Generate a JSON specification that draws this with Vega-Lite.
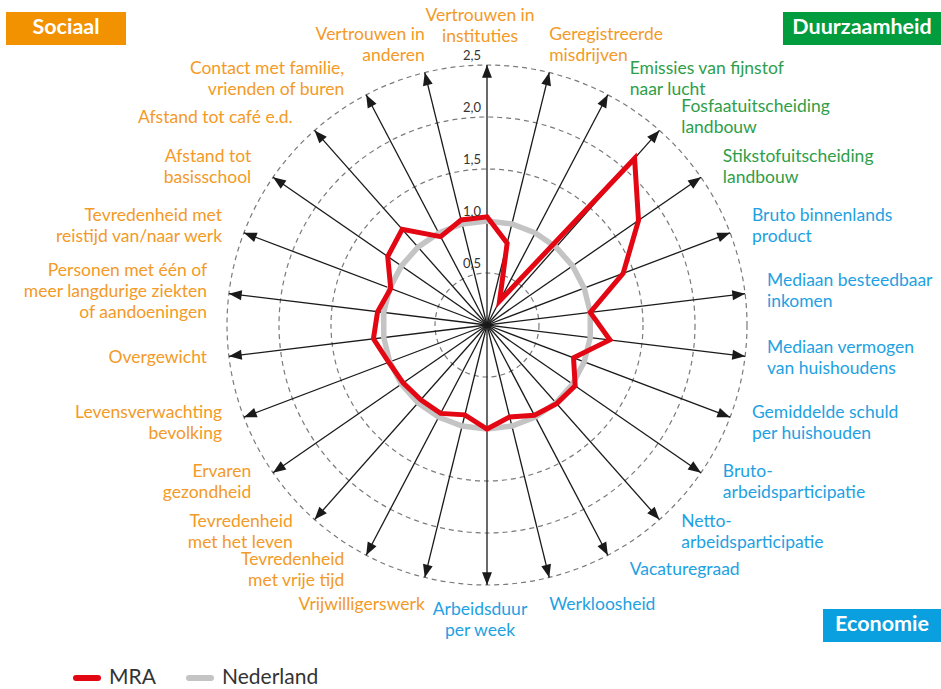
{
  "$schema": "https://vega.github.io/schema/vega-lite/v6.json",
  "width": 941,
  "height": 689,
  "autosize": {"type": "none"},
  "padding": 0,
  "background": "white",
  "config": {"view": {"stroke": null}, "font": "Lato"},
  "datasets": {
    "indicatoren": [
      {"i": 0, "indicator": "Vertrouwen in\ninstituties", "domein": "Sociaal", "MRA": 1.04, "Nederland": 1},
      {"i": 1, "indicator": "Geregistreerde\nmisdrijven", "domein": "Sociaal", "MRA": 0.81, "Nederland": 1},
      {"i": 2, "indicator": "Emissies van fijnstof\nnaar lucht", "domein": "Duurzaamheid", "MRA": 0.26, "Nederland": 1},
      {"i": 3, "indicator": "Fosfaatuitscheiding\nlandbouw", "domein": "Duurzaamheid", "MRA": 2.14, "Nederland": 1},
      {"i": 4, "indicator": "Stikstofuitscheiding\nlandbouw", "domein": "Duurzaamheid", "MRA": 1.77, "Nederland": 1},
      {"i": 5, "indicator": "Bruto binnenlands\nproduct", "domein": "Economie", "MRA": 1.40, "Nederland": 1},
      {"i": 6, "indicator": "Mediaan besteedbaar\ninkomen", "domein": "Economie", "MRA": 1.00, "Nederland": 1},
      {"i": 7, "indicator": "Mediaan vermogen\nvan huishoudens", "domein": "Economie", "MRA": 1.19, "Nederland": 1},
      {"i": 8, "indicator": "Gemiddelde schuld\nper huishouden", "domein": "Economie", "MRA": 0.89, "Nederland": 1},
      {"i": 9, "indicator": "Bruto-\narbeidsparticipatie", "domein": "Economie", "MRA": 1.03, "Nederland": 1},
      {"i": 10, "indicator": "Netto-\narbeidsparticipatie", "domein": "Economie", "MRA": 1.01, "Nederland": 1},
      {"i": 11, "indicator": "Vacaturegraad", "domein": "Economie", "MRA": 0.98, "Nederland": 1},
      {"i": 12, "indicator": "Werkloosheid", "domein": "Economie", "MRA": 0.91, "Nederland": 1},
      {"i": 13, "indicator": "Arbeidsduur\nper week", "domein": "Economie", "MRA": 1.00, "Nederland": 1},
      {"i": 14, "indicator": "Vrijwilligerswerk", "domein": "Sociaal", "MRA": 0.89, "Nederland": 1},
      {"i": 15, "indicator": "Tevredenheid\nmet vrije tijd", "domein": "Sociaal", "MRA": 0.96, "Nederland": 1},
      {"i": 16, "indicator": "Tevredenheid\nmet het leven", "domein": "Sociaal", "MRA": 0.96, "Nederland": 1},
      {"i": 17, "indicator": "Ervaren\ngezondheid", "domein": "Sociaal", "MRA": 0.98, "Nederland": 1},
      {"i": 18, "indicator": "Levensverwachting\nbevolking", "domein": "Sociaal", "MRA": 1.01, "Nederland": 1},
      {"i": 19, "indicator": "Overgewicht", "domein": "Sociaal", "MRA": 1.10, "Nederland": 1},
      {"i": 20, "indicator": "Personen met één of\nmeer langdurige ziekten\nof aandoeningen", "domein": "Sociaal", "MRA": 1.06, "Nederland": 1},
      {"i": 21, "indicator": "Tevredenheid met\nreistijd van/naar werk", "domein": "Sociaal", "MRA": 0.99, "Nederland": 1},
      {"i": 22, "indicator": "Afstand tot\nbasisschool", "domein": "Sociaal", "MRA": 1.16, "Nederland": 1},
      {"i": 23, "indicator": "Afstand tot café e.d.", "domein": "Sociaal", "MRA": 1.23, "Nederland": 1},
      {"i": 24, "indicator": "Contact met familie,\nvrienden of buren", "domein": "Sociaal", "MRA": 0.96, "Nederland": 1},
      {"i": 25, "indicator": "Vertrouwen in\nanderen", "domein": "Sociaal", "MRA": 1.04, "Nederland": 1}
    ],
    "ringen": [
      {"ring": 0.5, "label": "0,5"},
      {"ring": 1.0, "label": "1,0"},
      {"ring": 1.5, "label": "1,5"},
      {"ring": 2.0, "label": "2,0"},
      {"ring": 2.5, "label": "2,5"}
    ]
  },
  "layer": [
    {
      "encoding": {
        "x": {"field": "x", "type": "quantitative", "scale": {"domain": [-4.6827, 4.3654], "nice": false, "zero": false}, "axis": null},
        "y": {"field": "y", "type": "quantitative", "scale": {"domain": [-3.5, 3.125], "nice": false, "zero": false}, "axis": null}
      },
      "layer": [
        {
          "data": {"name": "ringen"},
          "transform": [{"calculate": "0", "as": "x"}, {"calculate": "0", "as": "y"}],
          "mark": {"type": "point", "shape": "circle", "filled": false, "color": "#7a7a7a", "strokeWidth": 1.2, "strokeDash": [5, 4], "opacity": 1},
          "encoding": {
            "size": {"field": "ring", "type": "quantitative", "scale": {"type": "pow", "exponent": 2, "domain": [0, 2.5], "range": [0, 270400]}, "legend": null}
          }
        },
        {
          "data": {"name": "indicatoren"},
          "transform": [
            {"calculate": "datum.i * 2 * PI / 26", "as": "theta"},
            {"calculate": "2.5 * sin(datum.theta)", "as": "x"},
            {"calculate": "2.5 * cos(datum.theta)", "as": "y"}
          ],
          "mark": {"type": "rule", "color": "#1a1a1a", "strokeWidth": 1.3},
          "encoding": {"x2": {"datum": 0}, "y2": {"datum": 0}}
        },
        {
          "data": {"name": "indicatoren"},
          "transform": [
            {"calculate": "datum.i * 2 * PI / 26", "as": "theta"},
            {"fold": ["MRA", "Nederland"], "as": ["reeks", "waarde"]},
            {"filter": "datum.reeks === 'Nederland'"},
            {"calculate": "datum.waarde * sin(datum.theta)", "as": "x"},
            {"calculate": "datum.waarde * cos(datum.theta)", "as": "y"}
          ],
          "mark": {"type": "line", "interpolate": "linear-closed", "strokeWidth": 5.5},
          "encoding": {
            "color": {"field": "reeks", "type": "nominal", "scale": {"domain": ["MRA", "Nederland"], "range": ["#E30613", "#C4C4C4"]},
              "legend": {"title": null, "orient": "none", "legendX": 73, "legendY": 664, "direction": "horizontal", "padding": 0, "gridAlign": "each",
                "symbolType": "stroke", "symbolSize": 484, "symbolStrokeWidth": 6, "labelFontSize": 21, "labelColor": "#333333", "labelFont": "Lato",
                "labelOffset": 8, "columnPadding": 21,
                "encode": {"symbols": {"update": {"strokeCap": {"value": "round"}}}}}},
            "order": {"field": "i", "type": "quantitative"}
          }
        },
        {
          "data": {"name": "indicatoren"},
          "transform": [
            {"calculate": "datum.i * 2 * PI / 26", "as": "theta"},
            {"fold": ["MRA", "Nederland"], "as": ["reeks", "waarde"]},
            {"filter": "datum.reeks === 'MRA'"},
            {"calculate": "datum.waarde * sin(datum.theta)", "as": "x"},
            {"calculate": "datum.waarde * cos(datum.theta)", "as": "y"}
          ],
          "mark": {"type": "line", "interpolate": "linear-closed", "strokeWidth": 5},
          "encoding": {
            "color": {"field": "reeks", "type": "nominal", "scale": {"domain": ["MRA", "Nederland"], "range": ["#E30613", "#C4C4C4"]},
              "legend": {"title": null, "orient": "none", "legendX": 73, "legendY": 664, "direction": "horizontal", "padding": 0, "gridAlign": "each",
                "symbolType": "stroke", "symbolSize": 484, "symbolStrokeWidth": 6, "labelFontSize": 21, "labelColor": "#333333", "labelFont": "Lato",
                "labelOffset": 8, "columnPadding": 21,
                "encode": {"symbols": {"update": {"strokeCap": {"value": "round"}}}}}},
            "order": {"field": "i", "type": "quantitative"}
          }
        },
        {
          "data": {"name": "indicatoren"},
          "transform": [
            {"calculate": "datum.i * 2 * PI / 26", "as": "theta"},
            {"calculate": "datum.i * 360 / 26", "as": "graden"},
            {"calculate": "2.5 * sin(datum.theta)", "as": "x"},
            {"calculate": "2.5 * cos(datum.theta)", "as": "y"}
          ],
          "mark": {"type": "point", "shape": "M0,0L0.62,1.6L-0.62,1.6Z", "filled": true, "color": "#1a1a1a", "size": 256, "opacity": 1, "strokeWidth": 0},
          "encoding": {"angle": {"field": "graden", "type": "quantitative", "scale": null}}
        },
        {
          "data": {"name": "ringen"},
          "transform": [{"calculate": "0", "as": "x"}, {"calculate": "datum.ring", "as": "y"}],
          "mark": {"type": "text", "align": "right", "baseline": "middle", "dx": -6, "dy": -9, "fontSize": 13, "color": "#333333", "font": "Lato"},
          "encoding": {"text": {"field": "label"}}
        },
        {
          "data": {"name": "indicatoren"},
          "transform": [
            {"calculate": "datum.i * 2 * PI / 26", "as": "theta"},
            {"calculate": "sin(datum.theta)", "as": "s"},
            {"calculate": "cos(datum.theta)", "as": "c"},
            {"calculate": "length(split(datum.indicator, '\\n'))", "as": "regels"},
            {"calculate": "2.5 * datum.s + (abs(datum.s) > 0.3 ? 0.21 * (datum.s > 0 ? 1 : -1) : 0)", "as": "x"},
            {"calculate": "2.5 * datum.c + (abs(datum.s) > 0.3 ? 0.165 : 0.27) * datum.c", "as": "y"},
            {"calculate": "(datum.i === 0 || datum.i === 13) ? 'center' : (datum.s > 0 ? 'left' : 'right')", "as": "uitlijning"},
            {"calculate": "datum.i === 0 ? -(datum.regels - 1) * 21 : (datum.i === 13 ? -3 : -(datum.regels - 1) * 10.5)", "as": "verschuiving"}
          ],
          "mark": {"type": "text", "baseline": "middle", "lineBreak": "\n", "fontSize": 17.5, "lineHeight": 21, "font": "Lato",
            "align": {"expr": "datum.uitlijning"},
            "dy": {"expr": "datum.verschuiving"},
            "dx": {"expr": "(datum.i === 0 || datum.i === 13) ? -7 : 0"}},
          "encoding": {
            "text": {"field": "indicator"},
            "fill": {"field": "domein", "type": "nominal", "scale": {"domain": ["Sociaal", "Duurzaamheid", "Economie"], "range": ["#F39A27", "#2E9E4A", "#1EA1E2"]}, "legend": null}
          }
        }
      ]
    },
    {
      "data": {"values": [{"domein": "Sociaal"}]},
      "layer": [
        {"mark": {"type": "rect", "color": "#F39200"},
         "encoding": {
           "x": {"datum": -4.625, "type": "quantitative", "scale": {"domain": [-4.6827, 4.3654], "nice": false, "zero": false}, "axis": null},
           "x2": {"datum": -3.471},
           "y": {"datum": 3.010, "type": "quantitative", "scale": {"domain": [-3.5, 3.125], "nice": false, "zero": false}, "axis": null},
           "y2": {"datum": 2.692}
         }},
        {"mark": {"type": "text", "color": "white", "fontWeight": "bold", "fontSize": 21.5, "font": "Lato", "align": "center", "baseline": "middle"},
         "encoding": {
           "x": {"datum": -4.048, "type": "quantitative", "scale": {"domain": [-4.6827, 4.3654], "nice": false, "zero": false}, "axis": null},
           "y": {"datum": 2.851, "type": "quantitative", "scale": {"domain": [-3.5, 3.125], "nice": false, "zero": false}, "axis": null},
           "text": {"field": "domein"}
         }}
      ]
    },
    {
      "data": {"values": [{"domein": "Duurzaamheid"}]},
      "layer": [
        {"mark": {"type": "rect", "color": "#009C3D"},
         "encoding": {
           "x": {"datum": 2.846, "type": "quantitative", "scale": {"domain": [-4.6827, 4.3654], "nice": false, "zero": false}, "axis": null},
           "x2": {"datum": 4.3654},
           "y": {"datum": 3.010, "type": "quantitative", "scale": {"domain": [-3.5, 3.125], "nice": false, "zero": false}, "axis": null},
           "y2": {"datum": 2.692}
         }},
        {"mark": {"type": "text", "color": "white", "fontWeight": "bold", "fontSize": 21.5, "font": "Lato", "align": "center", "baseline": "middle"},
         "encoding": {
           "x": {"datum": 3.606, "type": "quantitative", "scale": {"domain": [-4.6827, 4.3654], "nice": false, "zero": false}, "axis": null},
           "y": {"datum": 2.851, "type": "quantitative", "scale": {"domain": [-3.5, 3.125], "nice": false, "zero": false}, "axis": null},
           "text": {"field": "domein"}
         }}
      ]
    },
    {
      "data": {"values": [{"domein": "Economie"}]},
      "layer": [
        {"mark": {"type": "rect", "color": "#0A9FDF"},
         "encoding": {
           "x": {"datum": 3.231, "type": "quantitative", "scale": {"domain": [-4.6827, 4.3654], "nice": false, "zero": false}, "axis": null},
           "x2": {"datum": 4.3654},
           "y": {"datum": -2.731, "type": "quantitative", "scale": {"domain": [-3.5, 3.125], "nice": false, "zero": false}, "axis": null},
           "y2": {"datum": -3.048}
         }},
        {"mark": {"type": "text", "color": "white", "fontWeight": "bold", "fontSize": 21.5, "font": "Lato", "align": "center", "baseline": "middle"},
         "encoding": {
           "x": {"datum": 3.798, "type": "quantitative", "scale": {"domain": [-4.6827, 4.3654], "nice": false, "zero": false}, "axis": null},
           "y": {"datum": -2.889, "type": "quantitative", "scale": {"domain": [-3.5, 3.125], "nice": false, "zero": false}, "axis": null},
           "text": {"field": "domein"}
         }}
      ]
    }
  ]
}
